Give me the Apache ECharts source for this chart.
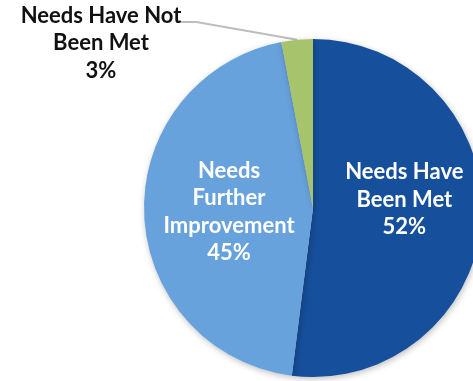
<!DOCTYPE html>
<html>
<head>
<meta charset="utf-8">
<style>
  html, body { margin: 0; padding: 0; background: #ffffff; }
  #chart { width: 473px; height: 381px; }
</style>
<script src="https://cdn.jsdelivr.net/npm/echarts@6/dist/echarts.min.js"></script>
</head>
<body>
<div id="chart"></div>
<script>
// Share of respondents by how well their needs were met
const categories = ['Needs Have\nBeen Met', 'Needs\nFurther\nImprovement', 'Needs Have Not\nBeen Met'];
const shares = [52, 45, 3];
const colors = ['#164f9b', '#68a2dc', '#a7c36b'];

const chart = echarts.init(document.getElementById('chart'), null, { renderer: 'canvas' });

const fontFamily = 'Lato, "Open Sans", sans-serif';
const textStyle = {
  fontFamily: fontFamily,
  fontWeight: 'bold',
  fontSize: 22,
  lineHeight: 27.5
};

const data = categories.map((name, i) => {
  const item = {
    name: name,
    value: shares[i],
    itemStyle: { color: colors[i] }
  };
  if (i === 2) {
    // outside label; an empty spacer row on top keeps the leader line level with the first text row
    item.label = {
      position: 'outside',
      align: 'center',
      formatter: p => '{pad| }\n' + p.name.split('\n').map(s => '{t|' + s + '}').join('\n') + '\n{t|' + p.value + '%}',
      rich: {
        pad: { height: 42, lineHeight: 42, fontSize: 10 },
        t: Object.assign({ color: '#111111', align: 'center' }, textStyle)
      }
    };
    item.labelLine = {
      show: true,
      length: 10,
      length2: 15,
      lineStyle: { color: '#bdbdbd', width: 2 }
    };
  } else {
    item.label = { position: 'inside', color: '#ffffff' };
    item.labelLine = { show: false };
  }
  return item;
});

chart.setOption({
  animation: false,
  series: [{
    type: 'pie',
    center: [313, 208],
    radius: [0, 169],
    startAngle: 90,
    clockwise: true,
    avoidLabelOverlap: false,
    itemStyle: {
      borderWidth: 0,
      shadowBlur: 6,
      shadowOffsetX: 1,
      shadowOffsetY: 2,
      shadowColor: 'rgba(0,0,0,0.25)'
    },
    label: Object.assign({
      show: true,
      formatter: p => p.name + '\n' + p.value + '%',
      align: 'center'
    }, textStyle),
    labelLayout: function (params) {
      if (params.dataIndex === 0) {
        return { dx: 4, dy: -14 };
      }
      if (params.dataIndex === 1) {
        return { dx: 3.5, dy: 1 };
      }
      return { x: 101, y: 22, align: 'center', verticalAlign: 'middle' };
    },
    data: data
  }]
});
</script>
</body>
</html>
